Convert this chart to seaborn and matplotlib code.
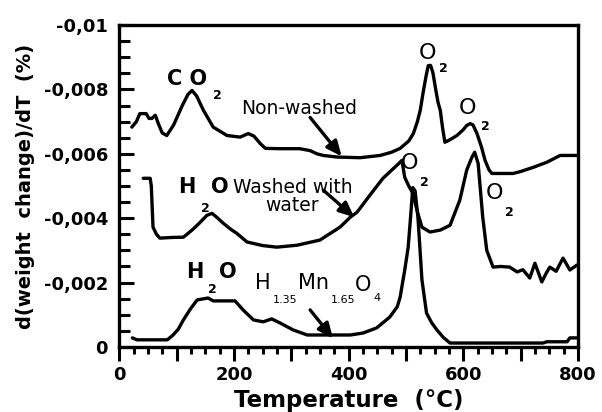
import matplotlib
matplotlib.use("Agg")
import matplotlib.pyplot as plt
from matplotlib.ticker import FixedLocator, MultipleLocator
import seaborn as sns
import pandas as pd

# DTG curves, d(weight change)/dT in %/°C
nonwashed_T = [22, 30, 36, 47, 52, 57, 63, 68, 75, 83, 95, 110, 120, 127, 135, 147, 164, 188,
               211, 225, 235, 246, 255, 280, 315, 333, 345, 356, 380, 420, 455, 475, 490, 505,
               513, 520, 525, 530, 535, 539, 543, 547, 552, 556, 560, 564, 568, 578, 589, 600,
               606, 612, 617, 624, 632, 638, 645, 650, 687, 700, 722, 746, 769, 798]
nonwashed_d = [-0.00683, -0.00700, -0.00725, -0.00725, -0.00710, -0.00710, -0.00720, -0.00695,
               -0.00665, -0.00657, -0.00690, -0.00750, -0.00785, -0.00797, -0.00780, -0.00735,
               -0.00683, -0.00657, -0.00652, -0.00663, -0.00655, -0.00632, -0.00617, -0.00616,
               -0.00616, -0.00610, -0.00600, -0.00595, -0.00590, -0.00588, -0.00595, -0.00605,
               -0.00617, -0.00640, -0.00663, -0.00700, -0.00735, -0.00790, -0.00840, -0.00874,
               -0.00875, -0.00853, -0.00800, -0.00760, -0.00735, -0.00680, -0.00636, -0.00645,
               -0.00657, -0.00675, -0.00688, -0.00694, -0.00690, -0.00663, -0.00620, -0.00580,
               -0.00550, -0.00539, -0.00539, -0.00545, -0.00558, -0.00574, -0.00595, -0.00595]

washed_T = [42, 54, 56, 57, 59, 65, 71, 90, 112, 127, 140, 153, 162, 172, 181, 195, 205, 223,
            250, 275, 310, 350, 385, 403, 415, 437, 460, 484, 490, 493, 498, 505, 512, 520, 528,
            542, 560, 577, 594, 606, 615, 620, 626, 634, 641, 652, 665, 681, 694, 704, 716, 725,
            737, 745, 751, 762, 774, 786, 798]
washed_d = [-0.00524, -0.00524, -0.00500, -0.00456, -0.00372, -0.00350, -0.00338, -0.00340,
            -0.00341, -0.00363, -0.00385, -0.00409, -0.00415, -0.00400, -0.00385, -0.00365,
            -0.00353, -0.00326, -0.00315, -0.00310, -0.00316, -0.00332, -0.00372, -0.00403,
            -0.00419, -0.00471, -0.00524, -0.00564, -0.00574, -0.00580, -0.00527, -0.00500,
            -0.00478, -0.00420, -0.00372, -0.00357, -0.00363, -0.00378, -0.00456, -0.00549,
            -0.00589, -0.00605, -0.00570, -0.00403, -0.00300, -0.00248, -0.00250, -0.00248,
            -0.00233, -0.00240, -0.00214, -0.00260, -0.00202, -0.00230, -0.00248, -0.00235,
            -0.00276, -0.00239, -0.00254]

spinel_T = [23, 31, 60, 84, 94, 103, 112, 125, 136, 155, 164, 185, 202, 216, 234, 251, 266,
            281, 303, 328, 360, 403, 425, 449, 472, 485, 490, 495, 498, 504, 508, 512, 516,
            521, 528, 536, 545, 554, 565, 577, 660, 739, 746, 781, 786, 798]
spinel_d = [-0.00028, -0.00022, -0.00022, -0.00022, -0.00037, -0.00055, -0.00084, -0.00120,
            -0.00146, -0.00152, -0.00143, -0.00143, -0.00143, -0.00115, -0.00084, -0.00078,
            -0.00087, -0.00074, -0.00053, -0.00037, -0.00037, -0.00037, -0.00043, -0.00059,
            -0.00093, -0.00125, -0.00155, -0.00208, -0.00239, -0.00310, -0.00400, -0.00495,
            -0.00485, -0.00403, -0.00208, -0.00105, -0.00075, -0.00053, -0.00030, -0.00012,
            -0.00012, -0.00012, -0.00016, -0.00016, -0.00028, -0.00028]

x_ticks = [0, 100, 200, 300, 400, 500, 600, 700, 800]
x_labels = ["0", "", "200", "", "400", "", "600", "", "800"]
y_ticks = [-0.01, -0.008, -0.006, -0.004, -0.002, 0]
y_labels = ["-0,01", "-0,008", "-0,006", "-0,004", "-0,002", "0"]

sns.set_style("ticks")
plt.rcParams["font.family"] = ["DejaVu Sans"]
plt.rcParams.update({"text.color": "black", "axes.labelcolor": "black",
                     "axes.edgecolor": "black", "xtick.color": "black",
                     "ytick.color": "black"})

fig = plt.figure(figsize=(6.02, 4.12), dpi=100)
ax = fig.add_axes([0.198, 0.158, 0.762, 0.781])

for T, d in [(nonwashed_T, nonwashed_d), (washed_T, washed_d), (spinel_T, spinel_d)]:
    df = pd.DataFrame({"T": T, "d": d})
    sns.lineplot(data=df, x="T", y="d", ax=ax, color="black", lw=2.4, sort=False,
                 estimator=None)

ax.set_xlim(0, 800)
ax.set_ylim(0, -0.01)

ax.xaxis.set_major_locator(FixedLocator(x_ticks))
ax.set_xticklabels(x_labels)
ax.xaxis.set_minor_locator(MultipleLocator(25))
ax.yaxis.set_major_locator(FixedLocator(y_ticks))
ax.set_yticklabels(y_labels)
ax.yaxis.set_minor_locator(MultipleLocator(0.0005))

ax.tick_params(axis="x", which="major", direction="out", length=10, width=2.2, pad=4,
               labelsize=13, colors="black")
ax.tick_params(axis="x", which="minor", direction="out", length=5, width=2.2, colors="black")
ax.tick_params(axis="y", which="major", direction="in", length=11, width=2.2, pad=8,
               labelsize=13, colors="black")
ax.tick_params(axis="y", which="minor", direction="in", length=8, width=2.2, colors="black")
for lab in ax.get_xticklabels() + ax.get_yticklabels():
    lab.set_fontweight("bold")
for s in ax.spines.values():
    s.set_linewidth(2.4)
    s.set_color("black")
    s.set_visible(True)

ax.set_xlabel("Temperature  (°C)", fontsize=16.5, fontweight="bold", labelpad=3)
ax.set_ylabel("d(weight  change)/dT  (%)", fontsize=14, fontweight="bold", labelpad=6)

# peak assignments
big = dict(fontsize=15, fontweight="bold", ha="center", va="center")
reg = dict(fontsize=16, ha="center", va="center")
sub = dict(fontsize=9, fontweight="bold", ha="center", va="center")

ax.text(118, -0.00834, "C O", **big)
ax.text(171, -0.00781, "2", **sub)

ax.text(537, -0.00912, "O", **reg)
ax.text(565, -0.00865, "2", **sub)
ax.text(608, -0.00741, "O", **reg)
ax.text(638, -0.00685, "2", **sub)

ax.text(118, -0.00496, "H", **big)
ax.text(176, -0.00496, "O", **big)
ax.text(150, -0.00431, "2", **sub)

ax.text(507, -0.00571, "O", **reg)
ax.text(532, -0.00512, "2", **sub)
ax.text(654, -0.00478, "O", **reg)
ax.text(680, -0.00419, "2", **sub)

ax.text(132, -0.00233, "H", **big)
ax.text(190, -0.00233, "O", **big)
ax.text(162, -0.00177, "2", **sub)

ax.text(251, -0.00198, "H", fontsize=15, ha="center", va="center")
ax.text(289, -0.00146, "1.35", fontsize=8, ha="center", va="center")
ax.text(338, -0.00198, "Mn", fontsize=15, ha="center", va="center")
ax.text(390, -0.00146, "1.65", fontsize=8, ha="center", va="center")
ax.text(425, -0.00192, "O", fontsize=15, ha="center", va="center")
ax.text(450, -0.00152, "4", fontsize=8, ha="center", va="center")

ax.text(314, -0.00741, "Non-washed", fontsize=13.5, ha="center", va="center")
ax.text(302, -0.00467, "Washed with\nwater", fontsize=13.5, ha="center", va="center",
        linespacing=0.95)

arrow = dict(arrowstyle="-|>,head_length=0.9,head_width=0.4", fc="black", ec="black",
             lw=2.4, shrinkA=0, shrinkB=0)
ax.annotate("", xy=(388, -0.00592), xytext=(333, -0.00713), arrowprops=arrow)
ax.annotate("", xy=(410, -0.00403), xytext=(356, -0.00487), arrowprops=arrow)
ax.annotate("", xy=(373, -0.00026), xytext=(333, -0.00115), arrowprops=arrow)

fig.savefig("out.png", dpi=100)
